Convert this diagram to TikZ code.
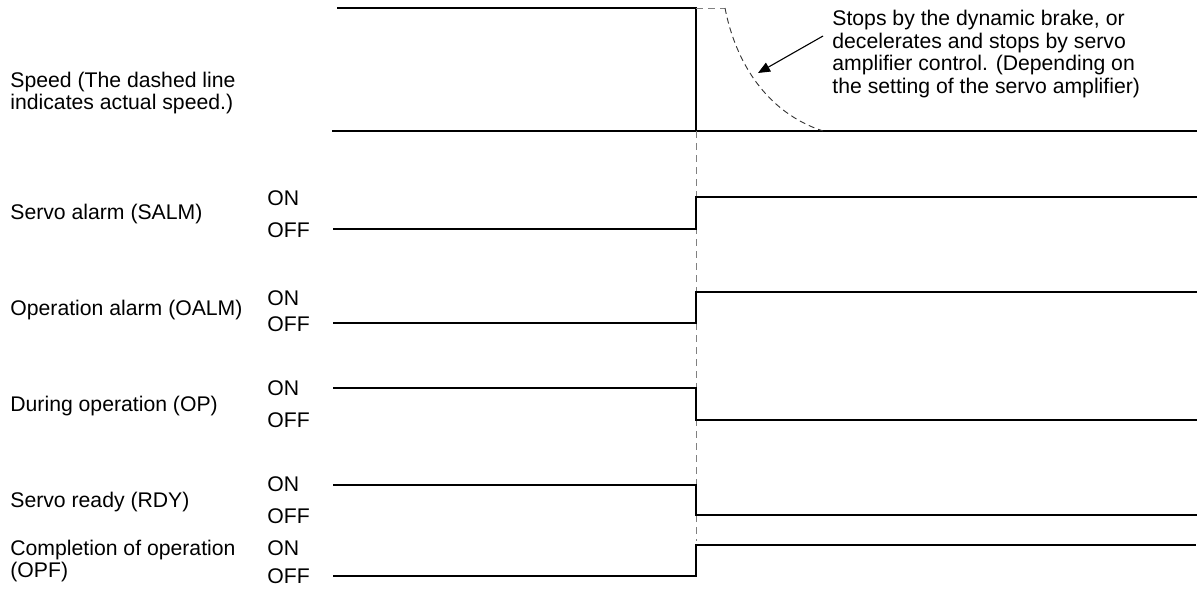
\documentclass[tikz,border=0pt]{standalone}
\usepackage{fontspec}
\setmainfont{Liberation Sans}
\usetikzlibrary{arrows.meta, positioning}

\begin{document}
\begin{tikzpicture}[
    x=0.5pt, y=-0.5pt,
    sig/.style={line width=0.6pt, black},
    actual/.style={line width=0.5pt, gray, dash pattern=on 3.5pt off 2.5pt},
    decel/.style={line width=0.45pt, black!80, dash pattern=on 3pt off 2pt},
    lbl/.style={anchor=west, inner sep=0pt, align=left, font=\fontsize{10.6pt}{11.4pt}\selectfont},
    note/.style={-{Triangle[length=6pt, width=5pt]}, line width=0.55pt}
]
\fill[white] (0,0) rectangle (1197,590);
\useasboundingbox (0,0) rectangle (1197,590);

% speed
\draw[sig] (337,8) -- (696,8) -- (696,131);
\draw[sig] (332,131) -- (1197,131);
\draw[actual] (696,8) -- (725,8);
\draw[decel] (725,8) .. controls (735,60) and (765,112) .. (823,131);
\draw[actual] (696,131) -- (696,541);
\node[lbl] (speed) at (10,93) {Speed (The dashed line\\indicates actual speed.)};
\node[lbl] (stopnote) at (832,54) {Stops by the dynamic brake, or\\decelerates and stops by servo\\amplifier control. (Depending on\\the setting of the servo amplifier)};
\coordinate (tail) at (823,36);
\coordinate (tip) at (758,73);
\draw[note] (tail) -- (tip);

% signals
\draw[sig] (333,229) -- (696,229) -- (696,197) -- (1197,197);
\draw[sig] (333,323) -- (696,323) -- (696,292) -- (1197,292);
\draw[sig] (333,388) -- (696,388) -- (696,420) -- (1197,420);
\draw[sig] (333,485) -- (696,485) -- (696,515) -- (1197,515);
\draw[sig] (333,576) -- (696,576) -- (696,545) -- (1196,545);

\node[lbl] (salm) at (10,214) {Servo alarm (SALM)};
\node[lbl] (salmon) at (267,198) {ON};
\node[lbl] (salmoff) at (267,230) {OFF};

\node[lbl] (oalm) at (10,310) {Operation alarm (OALM)};
\node[lbl] (oalmon) at (267,298) {ON};
\node[lbl] (oalmoff) at (267,324) {OFF};

\node[lbl] (op) at (10,406) {During operation (OP)};
\node[lbl] (opon) at (267,388) {ON};
\node[lbl] (opoff) at (267,420) {OFF};

\node[lbl] (rdy) at (10,502) {Servo ready (RDY)};
\node[lbl] (rdyon) at (267,484) {ON};
\node[lbl] (rdyoff) at (267,516) {OFF};

\node[lbl] (opf) at (10,561) {Completion of operation\\(OPF)};
\node[lbl] (opfon) at (267,548) {ON};
\node[lbl] (opfoff) at (267,576) {OFF};
\end{tikzpicture}
\end{document}
